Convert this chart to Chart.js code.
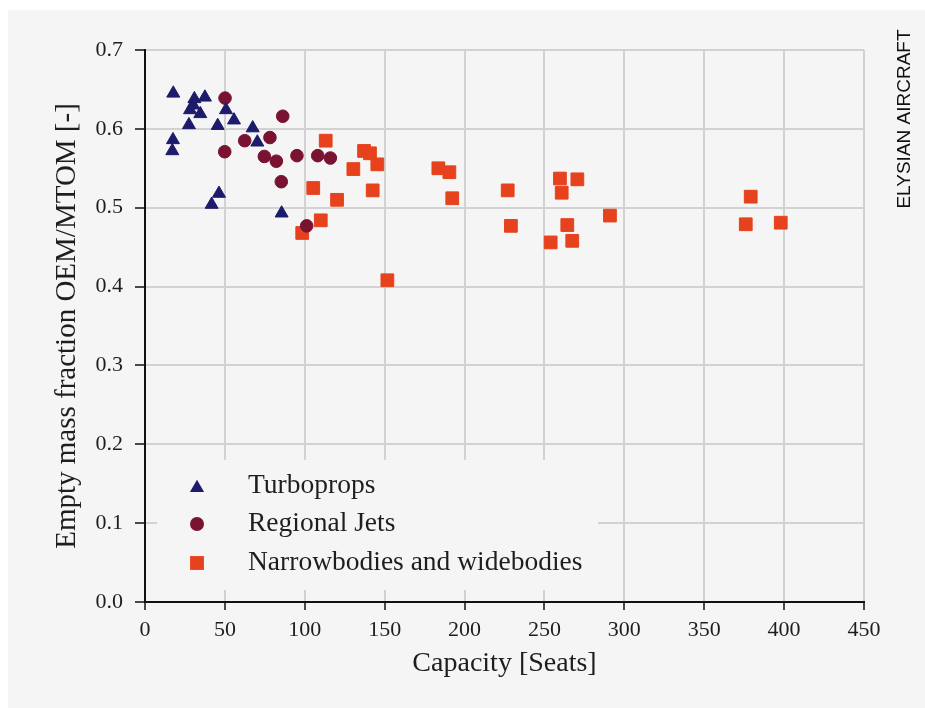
<!DOCTYPE html>
<html>
<head>
<meta charset="utf-8">
<script src="https://cdn.jsdelivr.net/npm/chart.js@4/dist/chart.umd.min.js"></script>
<style>
  html, body { margin: 0; padding: 0; background: #ffffff; }
  #wrap { position: relative; width: 925px; height: 708px; }
  canvas { display: block; }
</style>
</head>
<body>
<div id="wrap"><canvas id="c" width="925" height="708"></canvas></div>
<script>
// ---- Data ----
const seriesNames = ['Turboprops', 'Regional Jets', 'Narrowbodies and widebodies'];

const turboX = [17.7, 30.9, 37.5, 30.2, 28.2, 34.6, 27.5, 45.5, 50.7, 55.7, 67.4, 70.3, 17.5, 17.1, 46.3, 41.7, 85.5];
const turboY = [0.645, 0.638, 0.640, 0.630, 0.624, 0.619, 0.605, 0.604, 0.624, 0.611, 0.601, 0.583, 0.586, 0.572, 0.518, 0.504, 0.493];

const rjX = [50.1, 86.2, 62.4, 78.2, 49.9, 74.7, 82.2, 95.1, 108.1, 116.0, 85.3, 101.2];
const rjY = [0.639, 0.616, 0.585, 0.589, 0.571, 0.565, 0.559, 0.566, 0.566, 0.563, 0.533, 0.477];

const nbX = [113.1, 137.1, 140.8, 145.4, 130.4, 105.3, 142.5, 120.2, 110.0, 98.4, 183.6, 190.5, 192.3, 151.7, 227.0, 229.0, 259.7, 260.8, 270.6, 291.0, 264.3, 253.9, 267.4, 379.1, 376.0, 397.9];
const nbY = [0.585, 0.572, 0.569, 0.555, 0.549, 0.525, 0.522, 0.510, 0.484, 0.468, 0.550, 0.545, 0.512, 0.408, 0.522, 0.477, 0.537, 0.519, 0.536, 0.490, 0.478, 0.456, 0.458, 0.514, 0.479, 0.481];

const xTicks = [0, 50, 100, 150, 200, 250, 300, 350, 400, 450];
const yTicks = [0.0, 0.1, 0.2, 0.3, 0.4, 0.5, 0.6, 0.7];

const xTitle = 'Capacity [Seats]';
const yTitle = 'Empty mass fraction OEM/MTOM [-]';
const watermark = 'ELYSIAN AIRCRAFT';

// ---- Styles ----
const colors = ['#1d1b6b', '#7a1232', '#e6421d'];
const shapes = ['triangle', 'circle', 'rect'];
const radii = [7.5, 6.3, 9];
const SERIF = '"Liberation Serif", "Times New Roman", serif';
const TEXT = '#1e1e1e';

function pts(xs, ys) { return xs.map((x, i) => ({ x: x, y: ys[i] })); }

const datasets = [pts(turboX, turboY), pts(rjX, rjY), pts(nbX, nbY)].map((d, i) => ({
  label: seriesNames[i],
  data: d,
  pointStyle: shapes[i],
  pointRadius: radii[i],
  pointHoverRadius: radii[i],
  backgroundColor: colors[i],
  borderColor: colors[i],
  borderWidth: 1
}));

const panelPlugin = {
  id: 'panel',
  beforeDraw(chart) {
    const ctx = chart.ctx;
    ctx.save();
    ctx.fillStyle = '#ffffff';
    ctx.fillRect(0, 0, chart.width, chart.height);
    ctx.fillStyle = '#f5f5f5';
    ctx.fillRect(8, 10, chart.width - 8, chart.height - 10);
    ctx.restore();
  }
};

function drawMarker(ctx, shape, x, y, r) {
  ctx.beginPath();
  if (shape === 'triangle') {
    ctx.moveTo(x, y - r);
    ctx.lineTo(x + r * Math.sin(2 * Math.PI / 3), y - r * Math.cos(2 * Math.PI / 3));
    ctx.lineTo(x + r * Math.sin(4 * Math.PI / 3), y - r * Math.cos(4 * Math.PI / 3));
    ctx.closePath();
  } else if (shape === 'circle') {
    ctx.arc(x, y, r, 0, Math.PI * 2);
  } else {
    const s = r * Math.SQRT1_2;
    ctx.rect(x - s, y - s, 2 * s, 2 * s);
  }
  ctx.fill();
}

const legendPlugin = {
  id: 'boxLegend',
  beforeDatasetsDraw(chart) {
    const ctx = chart.ctx;
    ctx.save();
    ctx.fillStyle = '#f5f5f5';
    ctx.fillRect(157, 460, 441, 130);
    const ys = [486, 524, 563];
    chart.data.datasets.forEach((ds, i) => {
      ctx.fillStyle = ds.backgroundColor;
      const r = ds.pointStyle === 'rect' ? 9.8 : (ds.pointStyle === 'triangle' ? 8.2 : 7);
      drawMarker(ctx, ds.pointStyle, 197, ys[i] + (ds.pointStyle === 'triangle' ? 2 : 0), r);
      ctx.fillStyle = TEXT;
      ctx.font = '27.5px ' + SERIF;
      ctx.textAlign = 'left';
      ctx.textBaseline = 'middle';
      ctx.fillText(ds.label, 248, ys[i]);
    });
    ctx.restore();
  },
  afterDraw(chart) {
    const ctx = chart.ctx;
    ctx.save();
    ctx.translate(905, 119);
    ctx.rotate(-Math.PI / 2);
    ctx.fillStyle = '#111111';
    ctx.font = '19px "Liberation Sans", Arial, sans-serif';
    ctx.textAlign = 'center';
    ctx.textBaseline = 'middle';
    ctx.fillText(watermark, 0, 0);
    ctx.restore();
  }
};

new Chart(document.getElementById('c'), {
  type: 'scatter',
  data: { datasets: datasets },
  plugins: [panelPlugin, legendPlugin],
  options: {
    responsive: false,
    animation: false,
    devicePixelRatio: 1,
    layout: { padding: { top: 50, right: 61, left: 0, bottom: 0 } },
    plugins: { legend: { display: false }, tooltip: { enabled: false } },
    scales: {
      x: {
        type: 'linear',
        min: 0, max: 450,
        afterFit(scale) { scale.height = 106; },
        afterBuildTicks(scale) { scale.ticks = xTicks.map(v => ({ value: v })); },
        ticks: { color: TEXT, font: { family: SERIF, size: 22 }, padding: 7, maxRotation: 0, autoSkip: false,
                 callback: v => String(v) },
        grid: { color: '#d2d2d2', lineWidth: 2, tickColor: '#111111', tickLength: 8, tickWidth: 1.5 },
        border: { color: '#111111', width: 2 },
        title: { display: true, text: xTitle, color: TEXT, font: { family: SERIF, size: 28 }, padding: { top: 0, bottom: 28 } }
      },
      y: {
        type: 'linear',
        min: 0, max: 0.7,
        afterFit(scale) { scale.width = 145; },
        afterBuildTicks(scale) { scale.ticks = yTicks.map(v => ({ value: v })); },
        ticks: { color: TEXT, font: { family: SERIF, size: 22 }, padding: 12, autoSkip: false,
                 callback: v => Number(v).toFixed(1) },
        grid: { color: '#d2d2d2', lineWidth: 2, tickColor: '#111111', tickLength: 10, tickWidth: 1.5 },
        border: { color: '#111111', width: 2 },
        title: { display: true, text: yTitle, color: TEXT, font: { family: SERIF, size: 29 }, padding: { top: 50, bottom: 0 } }
      }
    }
  }
});
</script>
</body>
</html>
